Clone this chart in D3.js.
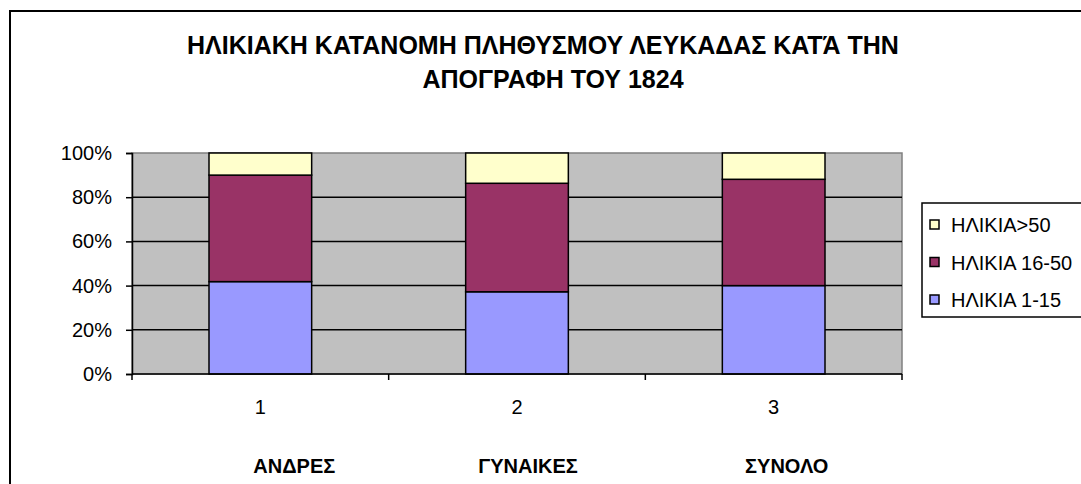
<!DOCTYPE html>
<meta charset="utf-8">
<style>
  body { margin: 0; background: #fff; }
  svg { display: block; font-family: "Liberation Sans", Arial, sans-serif; }
</style>
<script src="https://d3js.org/d3.v7.min.js"></script>
<div id="chart"></div>
<script>

// data (share of each age group, %)
var categories = ["1", "2", "3"];
var groupNames = ["ΑΝΔΡΕΣ", "ΓΥΝΑΙΚΕΣ", "ΣΥΝΟΛΟ"];
var age1to15 = [41.8, 37.2, 40.0];
var age16to50 = [48.2, 49.1, 48.1];
var ageOver50 = [10.0, 13.7, 11.9];
var seriesNames = ["ΗΛΙΚΙΑ 1-15", "ΗΛΙΚΙΑ 16-50", "ΗΛΙΚΙΑ>50"];
var seriesColors = ["#9999ff", "#993366", "#ffffcc"];
var yTicks = [0, 0.2, 0.4, 0.6, 0.8, 1];

var rows = categories.map(function(c, i) {
  return { cat: c, "ΗΛΙΚΙΑ 1-15": age1to15[i], "ΗΛΙΚΙΑ 16-50": age16to50[i], "ΗΛΙΚΙΑ>50": ageOver50[i] };
});

var W = 1081, H = 484;
var plot = { left: 132, right: 902, top: 153, bottom: 374 };

var svg = d3.select("#chart").append("svg")
  .attr("width", W).attr("height", H);

// outer chart frame
svg.append("rect")
  .attr("x", 10).attr("y", 11).attr("width", 1100).attr("height", 500)
  .attr("fill", "#fff").attr("stroke", "#000").attr("stroke-width", 2);

// title
var title = svg.append("text")
  .attr("text-anchor", "middle")
  .style("font-weight", "bold").style("font-size", "25px");
title.append("tspan").attr("x", 543).attr("y", 54)
  .text("ΗΛΙΚΙΑΚΗ ΚΑΤΑΝΟΜΗ ΠΛΗΘΥΣΜΟΥ ΛΕΥΚΑΔΑΣ ΚΑΤΆ ΤΗΝ");
title.append("tspan").attr("x", 553).attr("y", 88)
  .text("ΑΠΟΓΡΑΦΗ ΤΟΥ 1824");

var x = d3.scaleBand()
  .domain(categories)
  .range([plot.left, plot.right])
  .paddingInner(0.6)
  .paddingOuter(0.3);

var y = d3.scaleLinear().domain([0, 1]).range([plot.bottom, plot.top]);

// plot area
svg.append("rect")
  .attr("x", plot.left).attr("y", plot.top)
  .attr("width", plot.right - plot.left).attr("height", plot.bottom - plot.top)
  .attr("fill", "#c0c0c0").attr("stroke", "#808080").attr("stroke-width", 1.5);

// gridlines
svg.append("g").selectAll("line")
  .data(yTicks.filter(function(t) { return t > 0 && t < 1; }))
  .enter().append("line")
    .attr("x1", plot.left).attr("x2", plot.right)
    .attr("y1", function(d) { return y(d); }).attr("y2", function(d) { return y(d); })
    .attr("stroke", "#000").attr("stroke-width", 1.5);

// stacked bars
var stack = d3.stack().keys(seriesNames).offset(d3.stackOffsetExpand);
var layers = stack(rows);

svg.append("g").selectAll("g")
  .data(layers)
  .enter().append("g")
    .attr("fill", function(d, i) { return seriesColors[i]; })
  .selectAll("rect")
  .data(function(d) { return d; })
  .enter().append("rect")
    .attr("x", function(d) { return x(d.data.cat); })
    .attr("width", x.bandwidth())
    .attr("y", function(d) { return y(d[1]); })
    .attr("height", function(d) { return y(d[0]) - y(d[1]); })
    .attr("stroke", "#000").attr("stroke-width", 1.5);

// y axis
var yAxis = svg.append("g")
  .attr("transform", "translate(" + plot.left + ",0)")
  .call(d3.axisLeft(y).tickValues(yTicks).tickFormat(d3.format(".0%")).tickSize(6).tickPadding(14));
yAxis.selectAll("text").style("font-size", "20px").attr("fill", "#000").attr("font-family", null);
yAxis.selectAll("line, path").attr("stroke", "#000").attr("stroke-width", 1.5);

// x axis: ticks on the category boundaries
var xAxis = svg.append("g");
xAxis.append("line")
  .attr("x1", plot.left).attr("x2", plot.right)
  .attr("y1", plot.bottom).attr("y2", plot.bottom)
  .attr("stroke", "#000").attr("stroke-width", 1.5);
var bounds = d3.range(categories.length + 1).map(function(i) {
  return plot.left + i * x.step();
});
xAxis.selectAll(".tk").data(bounds).enter().append("line")
  .attr("x1", function(d) { return d; }).attr("x2", function(d) { return d; })
  .attr("y1", plot.bottom).attr("y2", plot.bottom + 6)
  .attr("stroke", "#000").attr("stroke-width", 1.5);
xAxis.selectAll(".lbl").data(categories).enter().append("text")
  .attr("x", function(d) { return x(d) + x.bandwidth() / 2; })
  .attr("y", 414)
  .attr("text-anchor", "middle")
  .style("font-size", "20px")
  .text(function(d) { return d; });

// category names under the axis
svg.append("g").selectAll("text")
  .data(groupNames)
  .enter().append("text")
    .attr("x", function(d, i) { return x(categories[i]) + x.bandwidth() / 2 + [34, 11, 13][i]; })
    .attr("y", 473)
    .attr("text-anchor", "middle")
    .style("font-size", "20px").style("font-weight", "bold")
    .text(function(d) { return d; });

// legend
var legend = svg.append("g");
legend.append("rect")
  .attr("x", 922).attr("y", 203).attr("width", 200).attr("height", 114)
  .attr("fill", "#fff").attr("stroke", "#000").attr("stroke-width", 1.5);
var legendOrder = seriesNames.slice().reverse();
var item = legend.selectAll(".item").data(legendOrder).enter().append("g")
  .attr("transform", function(d, i) { return "translate(930," + (225 + i * 37.5) + ")"; });
item.append("rect")
  .attr("x", 0).attr("y", -5).attr("width", 9).attr("height", 9)
  .attr("fill", function(d) { return seriesColors[seriesNames.indexOf(d)]; })
  .attr("stroke", "#000").attr("stroke-width", 1.5);
item.append("text")
  .attr("x", 21).attr("y", 7)
  .style("font-size", "20px")
  .text(function(d) { return d; });

</script>
